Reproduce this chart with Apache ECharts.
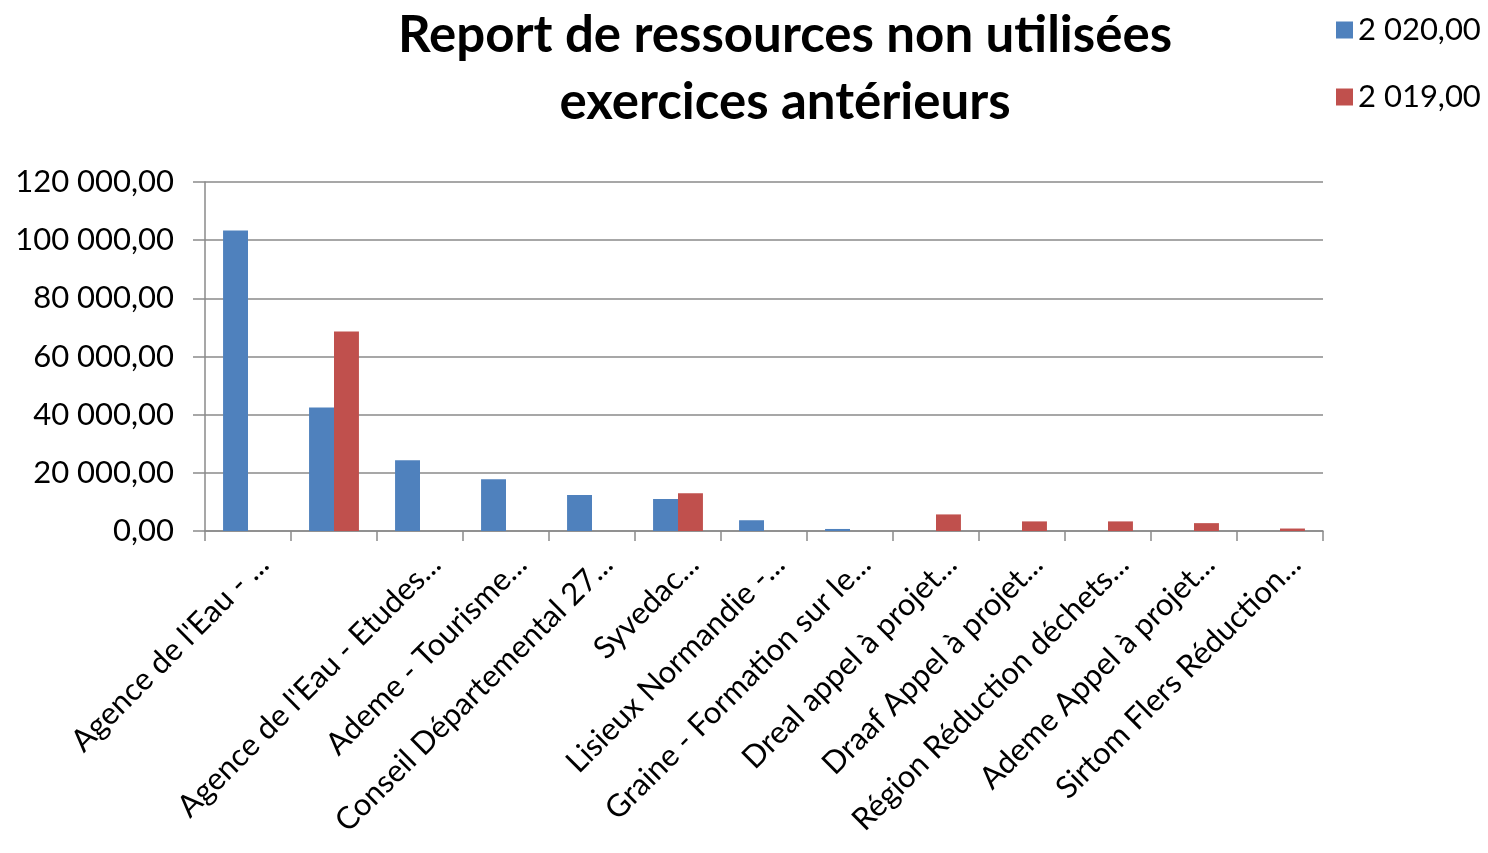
<!DOCTYPE html>
<html>
<head>
<meta charset="utf-8">
<script src="https://cdn.jsdelivr.net/npm/echarts@6/dist/echarts.min.js"></script>
<style>
  html, body { margin: 0; padding: 0; background: #fff; }
  #chart { width: 1488px; height: 853px; }
</style>
</head>
<body>
<div id="chart"></div>
<script>
// données
var categories = [
  "Agence de l'Eau - ...",
  '',
  "Agence de l'Eau - Etudes...",
  'Ademe - Tourisme...',
  'Conseil Départemental 27...',
  'Syvedac...',
  'Lisieux Normandie -...',
  'Graine - Formation sur le...',
  'Dreal appel à projet...',
  'Draaf Appel à projet...',
  'Région Réduction déchets...',
  'Ademe Appel à projet...',
  'Sirtom Flers Réduction...'
]
var seriesNames = ['2 020,00', '2 019,00']
var values2020 = [103300, 42500, 24300, 17800, 12400, 11000, 3700, 700, null, null, null, null, null]
var values2019 = [null, 68600, null, null, null, 13000, null, null, 5700, 3300, 3300, 2700, 850]
var yTicks = [0, 20000, 40000, 60000, 80000, 100000, 120000]

function fmt (v) {
  var s = String(Math.round(v))
  return s.replace(/\B(?=(\d{3})+(?!\d))/g, ' ') + ',00'
}

var chart = echarts.init(document.getElementById('chart'))
var font = 'Lato, "Open Sans", sans-serif'

chart.setOption({
  animation: false,
  textStyle: { fontFamily: font },
  title: {
    text: 'Report de ressources non utilisées\nexercices antérieurs',
    left: 780,
    textAlign: 'center',
    top: -3,
    textStyle: { fontSize: 51, fontWeight: 'bold', color: '#000', lineHeight: 67, fontFamily: font }
  },
  legend: {
    orient: 'vertical',
    left: 1331,
    top: 9,
    itemWidth: 17,
    itemHeight: 17,
    itemGap: 35,
    icon: 'rect',
    data: seriesNames,
    textStyle: { fontSize: 31, color: '#000', lineHeight: 32, fontFamily: font }
  },
  grid: { left: 205, right: 165, top: 182, bottom: 322 },
  xAxis: {
    type: 'category',
    data: categories,
    axisLine: { lineStyle: { color: '#8a8a8a', width: 1.5 } },
    axisTick: { show: true, length: 10, lineStyle: { color: '#8a8a8a', width: 1.5 } },
    axisLabel: {
      interval: 0,
      rotate: 45,
      margin: 44,
      fontSize: 31,
      color: '#000',
      padding: [0, -22, 0, 0],
      fontFamily: font
    }
  },
  yAxis: {
    type: 'value',
    min: yTicks[0],
    max: yTicks[yTicks.length - 1],
    interval: 20000,
    axisLine: { show: true, lineStyle: { color: '#8a8a8a', width: 1.5 } },
    axisTick: { show: true, length: 12, lineStyle: { color: '#8a8a8a', width: 1.5 } },
    splitLine: { lineStyle: { color: '#8a8a8a', width: 1.5 } },
    axisLabel: {
      margin: 31,
      fontSize: 31,
      color: '#000',
      formatter: fmt,
      fontFamily: font
    }
  },
  series: [
    {
      name: seriesNames[0],
      type: 'bar',
      data: values2020,
      barGap: '0%',
      barCategoryGap: '42%',
      itemStyle: { color: '#4F81BD' }
    },
    {
      name: seriesNames[1],
      type: 'bar',
      data: values2019,
      barGap: '0%',
      barCategoryGap: '42%',
      itemStyle: { color: '#C0504D' }
    }
  ]
})
</script>
</body>
</html>
